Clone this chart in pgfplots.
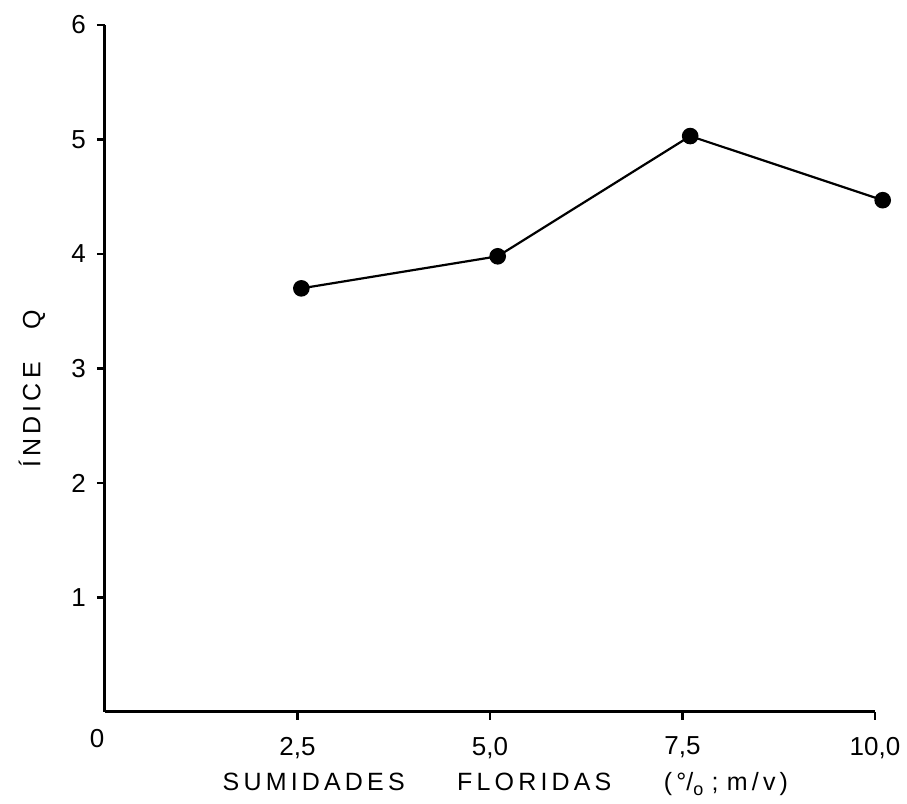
\documentclass[border=0pt]{standalone}
\usepackage{fontspec}
\setmainfont{Liberation Sans}
\usepackage{pgfplots}
\pgfplotsset{compat=1.18}
\begin{document}
\begin{tikzpicture}
\begin{axis}[
  name=ax,
  scale only axis,
  width=385pt, height=343.5pt,
  xmin=0, xmax=10, ymin=0, ymax=6,
  axis lines=left,
  axis line style={-, line width=1.5pt},
  clip=false,
  tick align=outside,
  major tick length=4pt,
  tick style={line width=1.2pt, black},
  xtick={2.5,5,7.5,10},
  xticklabels={{2,5}, {5,0}, {7,5}, {10,0}},
  ytick={1,2,3,4,5,6},
  yticklabels={1,2,3,4,5,6},
  extra x ticks={0},
  extra x tick labels={0},
  extra x tick style={major tick length=0pt, xticklabel style={xshift=-4pt}},
  /pgf/number format/assume math mode=true,
  ticklabel style={font=\fontsize{13}{15}\selectfont},
  xticklabel style={yshift=-5pt},
  yticklabel style={xshift=-2pt},
  xlabel={S\,U\,M\,I\,D\,A\,D\,E\,S\hspace{2.1em}F\,L\,O\,R\,I\,D\,A\,S\hspace{2.1em}(\,°/\raisebox{-0.35ex}{\small o}\,\,;\,\,m\,/\,v\,)},
  ylabel={Í\,N\,D\,I\,C\,E\hspace{1.3em}Q},
  label style={font=\fontsize{12.5}{14}\selectfont},
  xlabel style={at={(axis description cs:0.52,0)}, anchor=center, yshift=-36pt},
  ylabel style={at={(axis description cs:-0.095,0.47)}, anchor=center},
]
\addplot[black, line width=1.1pt, mark=*, mark size=3.6pt] coordinates {
  (2.55,3.70) (5.1,3.98) (7.6,5.03) (10.1,4.47)
};
\end{axis}
\path (ax.south west) ++(-52.5pt,-46pt) rectangle ++(453.5pt,402pt);
\end{tikzpicture}
\end{document}
